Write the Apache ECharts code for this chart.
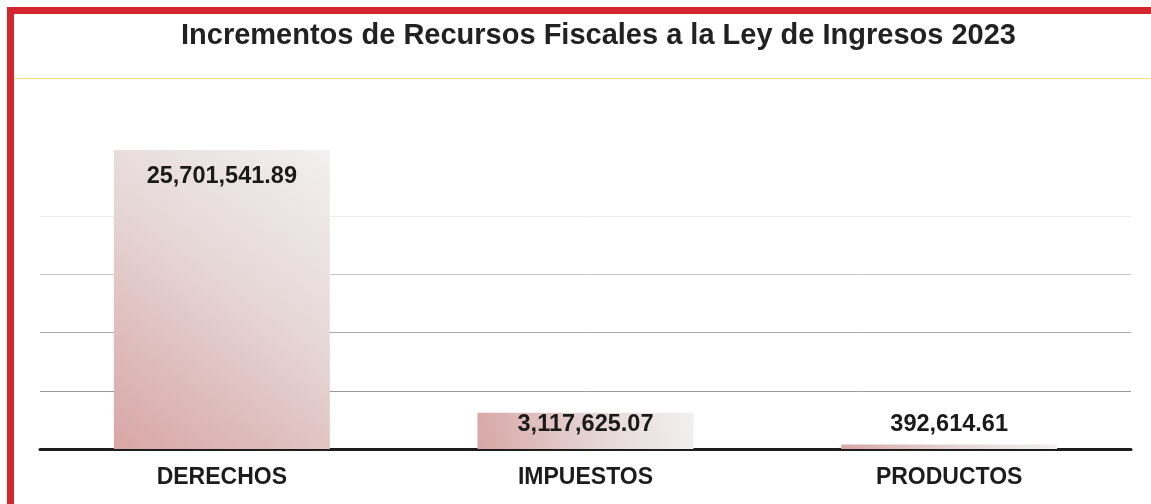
<!DOCTYPE html>
<html>
<head>
<meta charset="utf-8">
<script src="https://cdn.jsdelivr.net/npm/echarts@6/dist/echarts.min.js"></script>
<style>
  html, body { margin: 0; padding: 0; background: #ffffff; }
  #frame { position: absolute; left: 0; top: 0; width: 1151px; height: 504px; background: #fff; }
  #border { position: absolute; left: 7px; top: 7px; width: 1144px; height: 497px;
            border-top: 7px solid #d3262d; border-left: 7px solid #d3262d; box-sizing: border-box; }
  #chart { position: absolute; left: 0; top: 0; width: 1151px; height: 504px; }
</style>
</head>
<body>
<div id="frame">
  <div id="chart"></div>
  <div id="border"></div>
</div>
<script>
const titleText = 'Incrementos de Recursos Fiscales a la Ley de Ingresos 2023';
const categories = ['DERECHOS', 'IMPUESTOS', 'PRODUCTOS'];
const values = [25701541.89, 3117625.07, 392614.61];
const axisMax = 30000000;
const axisStep = 5000000;

function fmt(v) {
  return v.toLocaleString('en-US', { minimumFractionDigits: 2, maximumFractionDigits: 2 });
}

const labelPos = [
  { position: 'insideTop', distance: 15 },
  { position: 'insideTop', distance: 0 },
  { position: 'top', distance: 8 }
];

const chart = echarts.init(document.getElementById('chart'), null, { renderer: 'canvas' });
chart.setOption({
  backgroundColor: '#ffffff',
  animation: false,
  title: {
    text: titleText,
    left: 176,
    top: 16,
    textStyle: { fontFamily: 'Liberation Sans, Arial, sans-serif', fontSize: 29, fontWeight: 'bold', color: '#222222' }
  },
  graphic: [
    { type: 'line', shape: { x1: 14, y1: 78.5, x2: 1151, y2: 78.5 }, style: { stroke: '#f2df72', lineWidth: 1.2 }, silent: true }
  ],
  grid: { left: 40, right: 20, top: 100, bottom: 55 },
  xAxis: {
    type: 'category',
    data: categories,
    axisTick: { show: false },
    axisLine: { show: true, lineStyle: { color: '#1e1e1e', width: 3 } },
    axisLabel: { margin: 17, fontFamily: 'Liberation Sans, Arial, sans-serif', fontSize: 23, fontWeight: 'bold', color: '#1c1c1c' }
  },
  yAxis: {
    type: 'value',
    min: 0,
    max: axisMax,
    interval: axisStep,
    axisLabel: { show: false },
    axisLine: { show: false },
    axisTick: { show: false },
    splitLine: { show: true, lineStyle: { color: ['#ffffff', '#9a9a9a', '#a8a8a8', '#c8c8c8', '#ececec', '#ffffff', '#ffffff'], width: 1 } }
  },
  series: [{
    type: 'bar',
    barWidth: 216,
    data: values.map((v, i) => ({
      value: v,
      label: Object.assign({}, labelPos[i])
    })),
    itemStyle: {
      color: new echarts.graphic.LinearGradient(0, 1, 1, 0, [
        { offset: 0, color: '#d8a6a5' },
        { offset: 0.55, color: '#e6d6d6' },
        { offset: 1, color: '#f2f0f0' }
      ])
    },
    label: {
      show: true,
      formatter: p => fmt(p.value),
      fontFamily: 'Liberation Sans, Arial, sans-serif',
      fontSize: 23.5,
      fontWeight: 'bold',
      color: '#1a1a1a'
    }
  }]
});
</script>
</body>
</html>
